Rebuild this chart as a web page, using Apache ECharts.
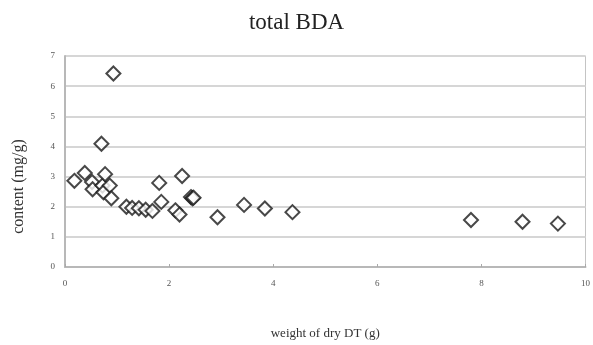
<!DOCTYPE html>
<html>
<head>
<meta charset="utf-8">
<title>total BDA</title>
<script src="https://cdn.jsdelivr.net/npm/echarts@6/dist/echarts.min.js"></script>
<style>
  html, body { margin: 0; padding: 0; background: #fff; }
  #chart { width: 593px; height: 345px; }
</style>
</head>
<body>
<div id="chart"></div>
<script>
// dry weight (g) of each sample
var weightDT = [0.18, 0.38, 0.52, 0.53, 0.70, 0.72, 0.74, 0.77, 0.86, 0.89, 0.93,
  1.18, 1.29, 1.42, 1.55, 1.68, 1.81, 1.85, 2.12, 2.20, 2.25, 2.42, 2.45, 2.47,
  2.93, 3.44, 3.84, 4.37, 7.80, 8.79, 9.47];
// total BDA content (mg/g)
var contentBDA = [2.86, 3.12, 2.82, 2.58, 4.09, 2.70, 2.48, 3.08, 2.70, 2.28, 6.42,
  2.00, 1.96, 1.95, 1.90, 1.86, 2.79, 2.16, 1.88, 1.74, 3.02, 2.32, 2.28, 2.30,
  1.65, 2.06, 1.94, 1.82, 1.56, 1.50, 1.44];

var serif = '"Liberation Serif", "DejaVu Serif", serif';

var points = weightDT.map(function (w, i) { return [w, contentBDA[i]]; });

var chart = echarts.init(document.getElementById('chart'));
chart.setOption({
  animation: false,
  backgroundColor: '#fff',
  title: {
    text: 'total BDA',
    left: 'center',
    top: 6,
    textStyle: { fontFamily: serif, fontSize: 23, fontWeight: 'normal', color: '#222' }
  },
  grid: {
    left: 65, right: 4, top: 56, bottom: 78,
    show: true,
    borderColor: '#c4c4c4',
    borderWidth: 1
  },
  xAxis: {
    type: 'value',
    min: 0, max: 10, interval: 2,
    name: 'weight of dry DT (g)',
    nameLocation: 'middle',
    nameGap: 60,
    nameTextStyle: { fontFamily: serif, fontSize: 13, color: '#333' },
    axisLine: { show: true, lineStyle: { color: '#b8b8b8', width: 2 } },
    axisTick: { show: true, inside: true, length: 3, lineStyle: { color: '#aaa' } },
    axisLabel: { fontFamily: serif, fontSize: 9, color: '#555', margin: 12 },
    splitLine: { show: false }
  },
  yAxis: {
    type: 'value',
    min: 0, max: 7, interval: 1,
    name: 'content (mg/g)',
    nameLocation: 'middle',
    nameGap: 38,
    nameTextStyle: { fontFamily: serif, fontSize: 16, color: '#333', padding: [0, 50, 0, 0] },
    axisLine: { show: true, lineStyle: { color: '#b8b8b8', width: 2 } },
    axisTick: { show: false },
    axisLabel: { fontFamily: serif, fontSize: 9, color: '#555', margin: 10 },
    splitLine: { show: true, lineStyle: { color: '#d6d6d6', width: 2 } }
  },
  series: [{
    name: 'total BDA',
    type: 'scatter',
    data: points,
    symbol: 'diamond',
    symbolSize: 14,
    itemStyle: { color: '#fff', borderColor: '#1a1a1a', borderWidth: 2 },
    z: 3
  }]
});
</script>
</body>
</html>
